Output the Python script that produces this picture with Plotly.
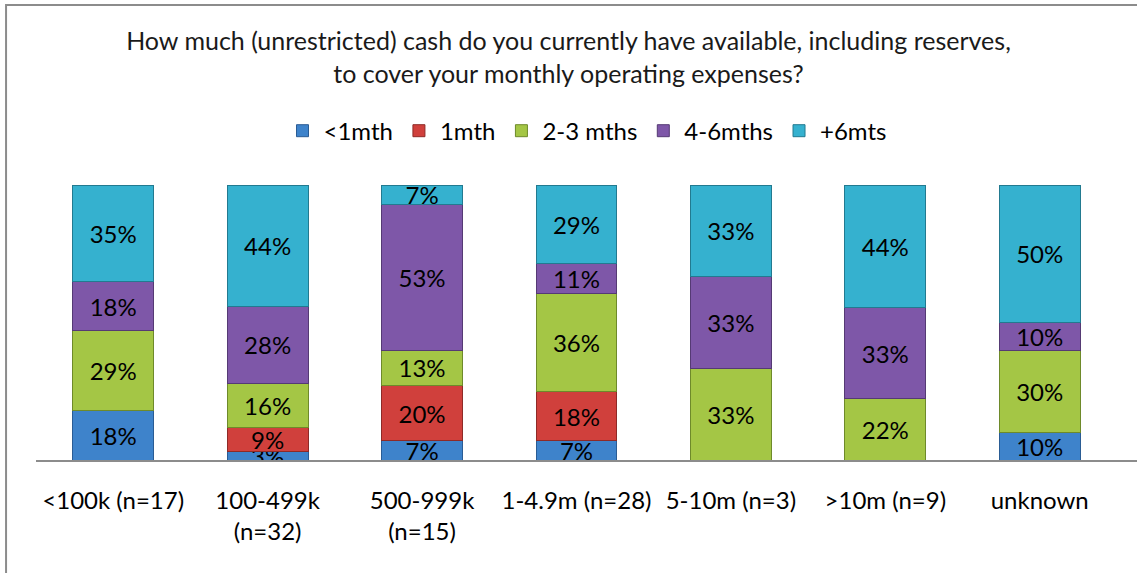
import plotly.graph_objects as go

categories = ["<100k (n=17)", "100-499k<br>(n=32)", "500-999k<br>(n=15)", "1-4.9m (n=28)",
              "5-10m (n=3)", ">10m (n=9)", "unknown"]
lt1mth = [18, 3, 7, 7, None, None, 10]
one_mth = [None, 9, 20, 18, None, None, None]
two_three = [29, 16, 13, 36, 33, 22, 30]
four_six = [18, 28, 53, 11, 33, 33, 10]
six_plus = [35, 44, 7, 29, 33, 44, 50]

series = [
    ("<1mth", lt1mth, "#3E83CB", "#2A5C94"),
    ("1mth", one_mth, "#D0403C", "#8E2A27"),
    ("2-3 mths", two_three, "#A4C645", "#6E8A2A"),
    ("4-6mths", four_six, "#7E57A8", "#553A74"),
    ("+6mts", six_plus, "#35B1CF", "#227A90"),
]

fig = go.Figure()
for name, vals, col, edge in series:
    fig.add_trace(go.Bar(
        name=name, x=categories, y=vals,
        text=[f"{v}%" if v else "" for v in vals],
        textposition="inside", insidetextanchor="middle",
        textfont=dict(size=24, color="black"),
        marker=dict(color=col, line=dict(color=edge, width=1)),
    ))

fig.update_layout(
    barmode="stack", barnorm="percent", bargap=0.476,
    width=1137, height=573,
    margin=dict(l=36, r=0, t=185, b=113),
    paper_bgcolor="white", plot_bgcolor="white",
    font=dict(family="Lato, Carlito, sans-serif", size=24, color="black"),
    uniformtext=dict(minsize=24, mode="show"),
    title=dict(text="How much (unrestricted) cash do you currently have available, including reserves,<br>to cover your monthly operating expenses?",
               x=0.5, xanchor="center", y=0.912, yanchor="top",
               font=dict(size=25, color="#1a1a1a")),
    legend=dict(orientation="h", x=0.5, xanchor="center", y=1.196, yanchor="middle",
                font=dict(size=24), itemwidth=32, traceorder="normal"),
    showlegend=True,
)
fig.update_xaxes(range=[-0.5, 6.63], showline=True, linecolor="#8C8C8C", linewidth=2,
                 showgrid=False, ticks="", ticklabelstandoff=18, tickfont=dict(size=24))
fig.update_yaxes(range=[0, 100], visible=False)

fig.add_shape(type="rect", xref="paper", yref="paper", x0=-0.0272, x1=1.1, y0=-0.6, y1=1.655,
              line=dict(color="#8C8C8C", width=2), layer="below")

fig.write_html("out.html", config={"displayModeBar": False},
               post_script="document.body.style.margin='0';")
